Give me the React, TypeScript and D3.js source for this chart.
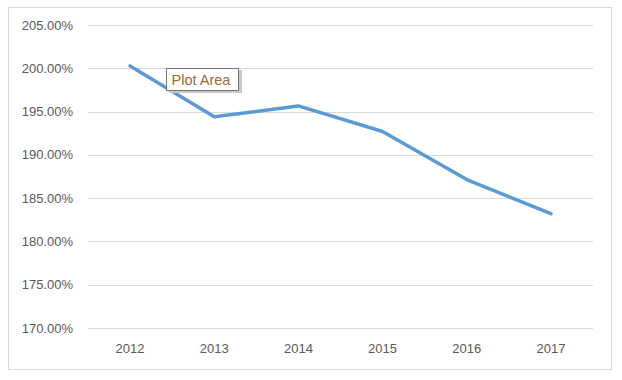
import React from "react";
import * as d3 from "d3";

const years = ["2012", "2013", "2014", "2015", "2016", "2017"];
const values = [200.27, 194.4, 195.65, 192.7, 187.15, 183.2];
const yTicks = [170, 175, 180, 185, 190, 195, 200, 205];
const tooltipText = "Plot Area";

const W = 622;
const H = 380;
const FONT = "'Liberation Sans', Arial, sans-serif";

export default function App() {
  const x = d3.scaleBand<string>().domain(years).range([88, 593]);
  const y = d3.scaleLinear().domain([170, 205]).range([328, 25]);
  const line = d3
    .line<number>()
    .x((_, i) => (x(years[i]) as number) + x.bandwidth() / 2)
    .y((d) => y(d));

  return (
    <svg
      width={W}
      height={H}
      style={{ position: "absolute", left: 0, top: 0, background: "#fff" }}
    >
      <rect x={8.5} y={7.5} width={603} height={362} fill="#fff" stroke="#d9d9d9" strokeWidth={1} />
      {yTicks.map((t) => (
        <g key={t}>
          <line x1={88} x2={593} y1={Math.round(y(t)) + 0.5} y2={Math.round(y(t)) + 0.5} stroke="#d9d9d9" strokeWidth={1} />
          <text
            x={73}
            y={y(t)}
            dy="0.35em"
            textAnchor="end"
            fontFamily={FONT}
            fontSize={13}
            fill="#595959"
          >
            {d3.format(".2f")(t) + "%"}
          </text>
        </g>
      ))}
      {years.map((yr) => (
        <text
          key={yr}
          x={(x(yr) as number) + x.bandwidth() / 2}
          y={348}
          dy="0.35em"
          textAnchor="middle"
          fontFamily={FONT}
          fontSize={13}
          fill="#595959"
        >
          {yr}
        </text>
      ))}
      <path
        d={line(values) || ""}
        fill="none"
        stroke="#5b9bd5"
        strokeWidth={3.5}
        strokeLinejoin="round"
        strokeLinecap="round"
      />
      <g>
        <rect x={169} y={70} width={73} height={23} fill="#c8c8c8" />
        <rect x={166.5} y={68.5} width={72} height={22} fill="#fff" stroke="#767676" strokeWidth={1} />
        <text x={171.5} y={80} dy="0.35em" fontFamily={FONT} fontSize={14.5} fill="#9b6a3c">
          {tooltipText}
        </text>
      </g>
    </svg>
  );
}
